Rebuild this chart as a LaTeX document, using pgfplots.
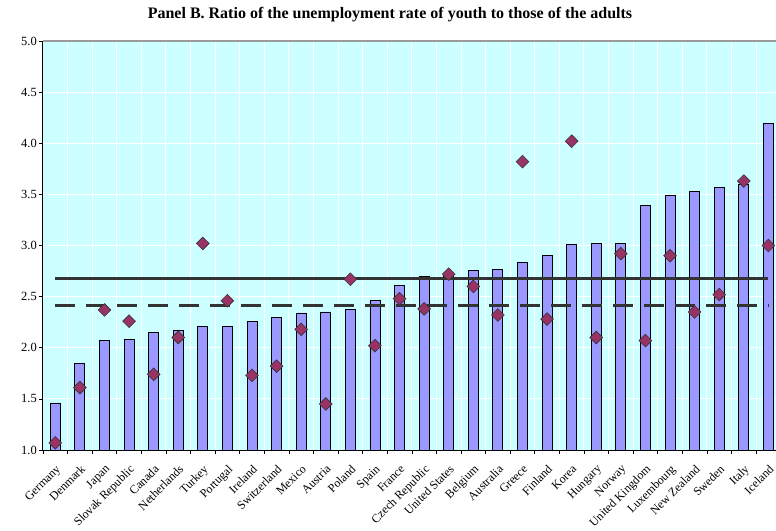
\documentclass[border=0pt]{standalone}
\usepackage{pgfplots}
\pgfplotsset{compat=1.18}
\usepackage{pgfplotstable}
\usepackage{fontspec}
\setmainfont{Liberation Serif}

\definecolor{bg}{HTML}{CCFFFF}
\definecolor{barfill}{HTML}{9999FF}
\definecolor{mk}{HTML}{993366}
\definecolor{ln}{HTML}{333333}

\pgfplotstableread{
idx bar mark
0  1.46 1.07
1  1.85 1.61
2  2.07 2.37
3  2.08 2.26
4  2.15 1.74
5  2.17 2.10
6  2.21 3.02
7  2.21 2.46
8  2.26 1.73
9  2.30 1.82
10 2.34 2.18
11 2.35 1.45
12 2.37 2.67
13 2.46 2.02
14 2.61 2.48
15 2.70 2.38
16 2.71 2.72
17 2.76 2.60
18 2.77 2.32
19 2.83 3.82
20 2.90 2.28
21 3.01 4.02
22 3.02 2.10
23 3.02 2.92
24 3.39 2.07
25 3.49 2.90
26 3.53 2.35
27 3.57 2.52
28 3.60 3.63
29 4.19 3.00
}\ratio

\begin{document}
\begin{tikzpicture}
\begin{axis}[
    scale only axis,
    width=733pt, height=409pt,
    xmin=-0.5, xmax=29.31,
    ymin=1, ymax=5,
    ytick={1,1.5,...,5},
    yticklabel style={/pgf/number format/fixed, /pgf/number format/fixed zerofill, /pgf/number format/precision=1},
    /pgf/number format/assume math mode=true,
    xtick={0,...,29},
    xticklabels={Germany,Denmark,Japan,{Slovak Republic},Canada,Netherlands,Turkey,Portugal,Ireland,Switzerland,Mexico,Austria,Poland,Spain,France,{Czech Republic},{United States},Belgium,Australia,Greece,Finland,Korea,Hungary,Norway,{United Kingdom},Luxembourg,{New Zealand},Sweden,Italy,Iceland},
    x tick label style={rotate=45, anchor=north east, font=\fontsize{12}{14}\selectfont, inner sep=1pt, xshift=-6pt, yshift=-6pt},
    y tick label style={font=\fontsize{12.5}{14}\selectfont, inner sep=2pt},
    major x tick style={draw=none},
    minor xtick={-0.5,0.5,...,29.5},
    minor x grid style={white, line width=1pt},
    xminorgrids=true,
    ymajorgrids=true,
    major y grid style={white, line width=1pt},
    tick align=outside,
    major tick length=4pt, minor tick length=4pt,
    tick style={black, line width=0.6pt},
    axis background/.style={fill=bg},
    axis x line*=bottom, axis y line*=left,
    axis line style={black, line width=1pt},
    x axis line style={-}, y axis line style={-},
    clip=true,
]
\addplot[ybar, bar width=10pt, fill=barfill, draw=black, line width=0.9pt] table[x=idx, y=bar] {\ratio};
\addplot[ln, line width=2.6pt] coordinates {(0,2.68) (29,2.68)};
\addplot[ln, line width=2.6pt, dash pattern=on 20pt off 11pt] coordinates {(0,2.415) (29,2.415)};
\addplot[only marks, mark=square*, mark size=4.5pt, mark options={rotate=45, fill=mk, draw=ln, line width=0.6pt}] table[x=idx, y=mark] {\ratio};
\draw[gray!80, line width=1.5pt] (rel axis cs:0,1) -- (rel axis cs:1,1);
\end{axis}
\node[font=\bfseries\fontsize{16}{18}\selectfont] at (347pt,435pt) {Panel B. Ratio of the unemployment rate of youth to those of the adults};
\pgfresetboundingbox
\useasboundingbox (-43pt,-80pt) rectangle (733pt,450pt);
\end{tikzpicture}
\end{document}
